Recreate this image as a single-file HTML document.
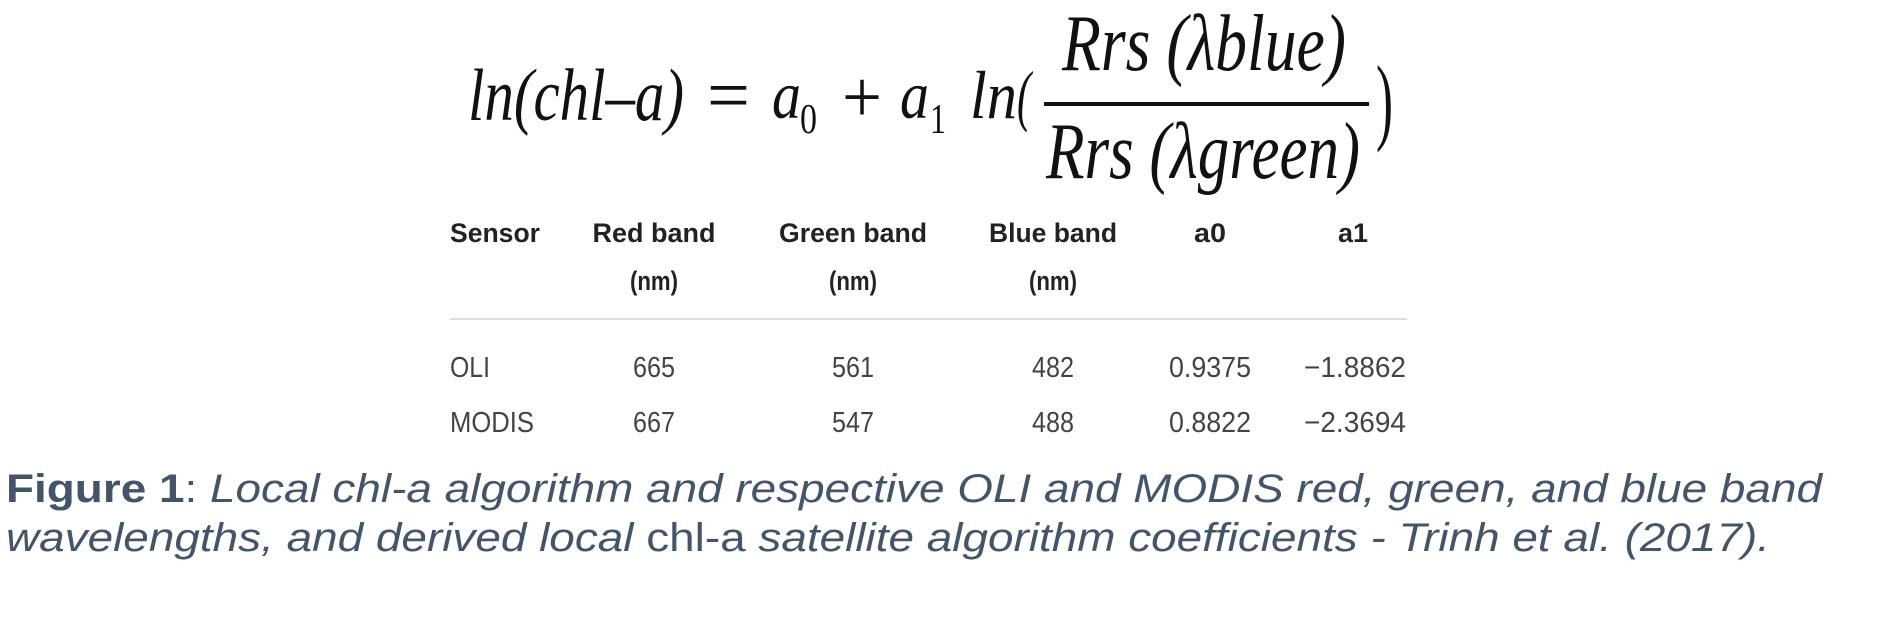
<!DOCTYPE html>
<html><head><meta charset="utf-8"><style>
html,body{margin:0;padding:0;background:#fff;width:1879px;height:623px;overflow:hidden}
svg{display:block}
</style></head><body>
<svg width="1879" height="623" viewBox="0 0 1879 623">
<g font-family="Liberation Serif, serif" font-style="italic" fill="#111">
<text x="468" y="120" font-size="74" textLength="216" lengthAdjust="spacingAndGlyphs">ln(chl–a)</text>
<text x="707" y="120" font-size="74" font-style="normal" textLength="43" lengthAdjust="spacingAndGlyphs">=</text>
<text x="772" y="118" font-size="68" textLength="29" lengthAdjust="spacingAndGlyphs">a</text>
<text x="800" y="133" font-size="42" font-style="normal" textLength="17" lengthAdjust="spacingAndGlyphs">0</text>
<text x="842" y="122" font-size="74" font-style="normal" textLength="40" lengthAdjust="spacingAndGlyphs">+</text>
<text x="900" y="118" font-size="68" textLength="29" lengthAdjust="spacingAndGlyphs">a</text>
<text x="930" y="133" font-size="42" font-style="normal" textLength="16" lengthAdjust="spacingAndGlyphs">1</text>
<text x="970" y="118" font-size="68" textLength="47" lengthAdjust="spacingAndGlyphs">ln</text>
<text x="1017" y="118" font-size="68" textLength="14" lengthAdjust="spacingAndGlyphs">(</text>
<text x="1062" y="70" font-size="80" textLength="284" lengthAdjust="spacingAndGlyphs">Rrs  (λblue)</text>
<rect x="1044" y="102" width="325" height="4" fill="#111"/>
<text x="1046" y="178" font-size="80" textLength="314" lengthAdjust="spacingAndGlyphs">Rrs  (λgreen)</text>
<text transform="translate(1376,132) scale(1,1.3)" font-size="74" font-style="normal" textLength="17" lengthAdjust="spacingAndGlyphs">)</text>
</g>
<g font-family="Liberation Sans, sans-serif">
<g font-weight="bold" font-size="27" fill="#222">
<text x="450" y="242" textLength="90" lengthAdjust="spacingAndGlyphs">Sensor</text>
<text x="654" y="242" text-anchor="middle" textLength="123" lengthAdjust="spacingAndGlyphs">Red band</text>
<text x="654" y="290" text-anchor="middle" textLength="48" lengthAdjust="spacingAndGlyphs">(nm)</text>
<text x="853" y="242" text-anchor="middle" textLength="148" lengthAdjust="spacingAndGlyphs">Green band</text>
<text x="853" y="290" text-anchor="middle" textLength="48" lengthAdjust="spacingAndGlyphs">(nm)</text>
<text x="1053" y="242" text-anchor="middle" textLength="128" lengthAdjust="spacingAndGlyphs">Blue band</text>
<text x="1053" y="290" text-anchor="middle" textLength="48" lengthAdjust="spacingAndGlyphs">(nm)</text>
<text x="1210" y="242" text-anchor="middle" textLength="32" lengthAdjust="spacingAndGlyphs">a0</text>
<text x="1353" y="242" text-anchor="middle" textLength="30" lengthAdjust="spacingAndGlyphs">a1</text>
</g>
<rect x="450" y="318" width="957" height="2" fill="#ddd"/>
<g font-size="29" fill="#444">
<text x="450" y="377" textLength="40" lengthAdjust="spacingAndGlyphs">OLI</text>
<text x="654" y="377" text-anchor="middle" textLength="42" lengthAdjust="spacingAndGlyphs">665</text>
<text x="853" y="377" text-anchor="middle" textLength="42" lengthAdjust="spacingAndGlyphs">561</text>
<text x="1053" y="377" text-anchor="middle" textLength="42" lengthAdjust="spacingAndGlyphs">482</text>
<text x="1210" y="377" text-anchor="middle" textLength="82" lengthAdjust="spacingAndGlyphs">0.9375</text>
<text x="1406" y="377" text-anchor="end" textLength="102" lengthAdjust="spacingAndGlyphs">−1.8862</text>
<text x="450" y="432" textLength="84" lengthAdjust="spacingAndGlyphs">MODIS</text>
<text x="654" y="432" text-anchor="middle" textLength="42" lengthAdjust="spacingAndGlyphs">667</text>
<text x="853" y="432" text-anchor="middle" textLength="42" lengthAdjust="spacingAndGlyphs">547</text>
<text x="1053" y="432" text-anchor="middle" textLength="42" lengthAdjust="spacingAndGlyphs">488</text>
<text x="1210" y="432" text-anchor="middle" textLength="82" lengthAdjust="spacingAndGlyphs">0.8822</text>
<text x="1406" y="432" text-anchor="end" textLength="102" lengthAdjust="spacingAndGlyphs">−2.3694</text>
</g>
</g>
<g font-family="Liberation Sans, sans-serif" font-size="40" fill="#44546a">
<text x="6" y="502" textLength="1816" lengthAdjust="spacingAndGlyphs"><tspan font-weight="bold">Figure 1</tspan>: <tspan font-style="italic">Local chl-a algorithm and respective OLI and MODIS red, green, and blue band</tspan></text>
<text x="6" y="551" textLength="1764" lengthAdjust="spacingAndGlyphs"><tspan font-style="italic">wavelengths, and derived local </tspan>chl-a<tspan font-style="italic"> satellite algorithm coefficients - Trinh et al. (2017).</tspan></text>
</g>
</svg>
</body></html>
